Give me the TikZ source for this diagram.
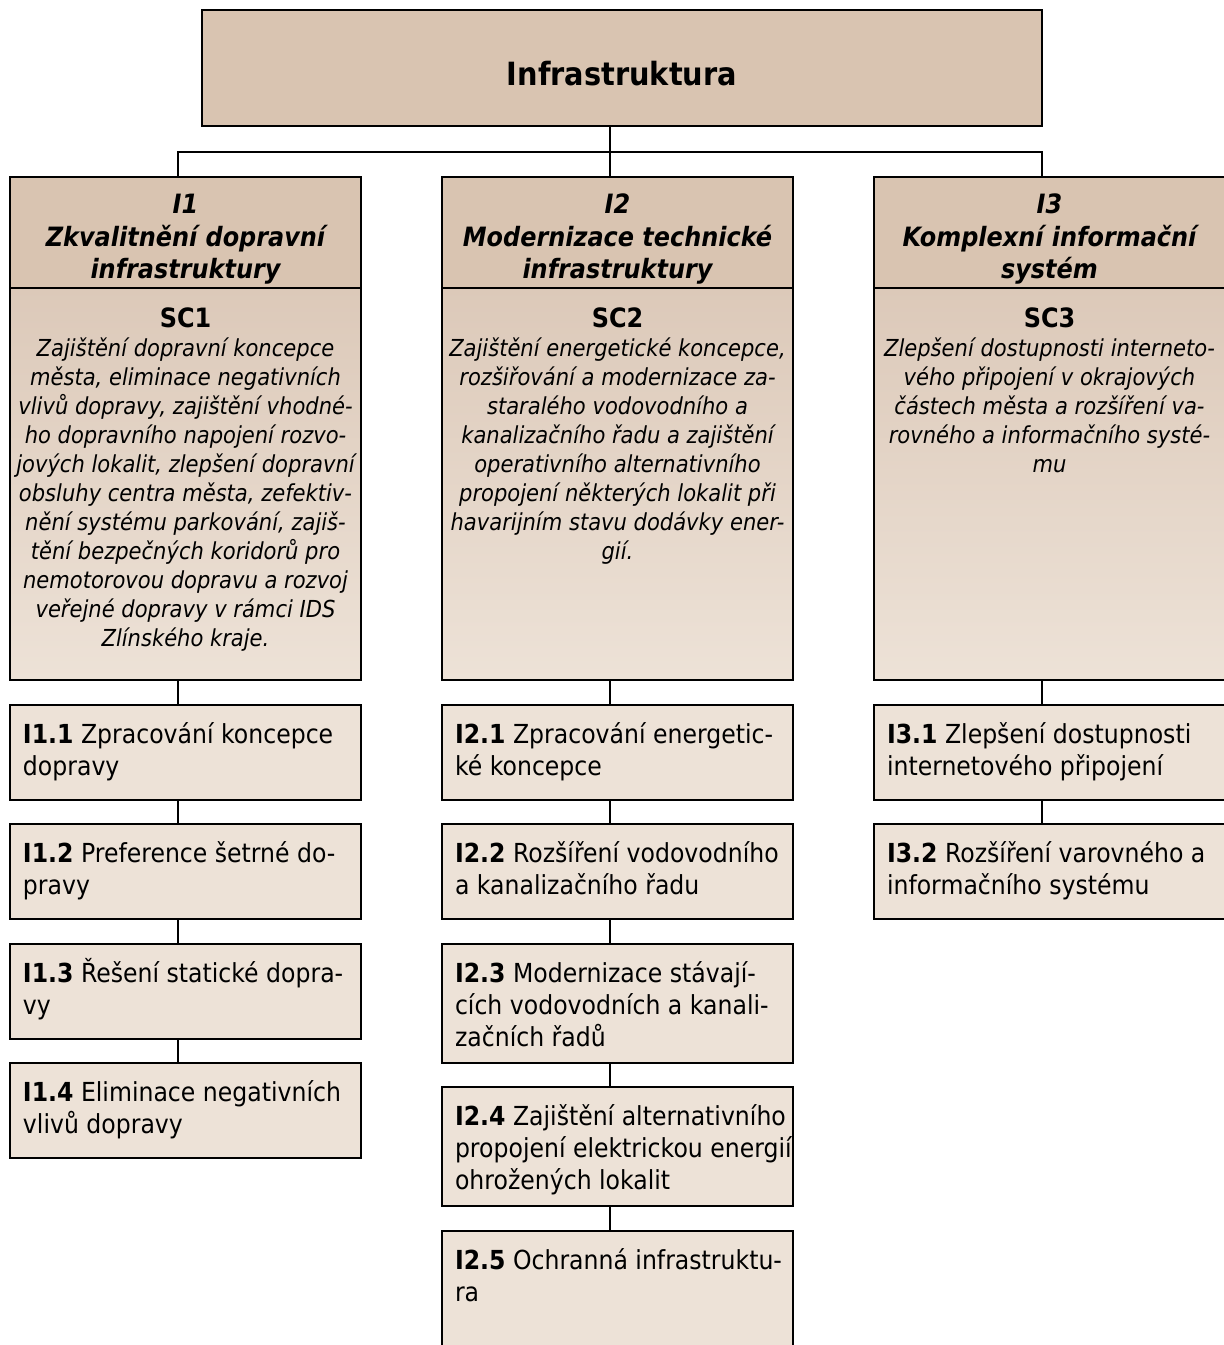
\documentclass[tikz,border=0pt]{standalone}
\usepackage{fontspec}
\setmainfont{DejaVu Sans}[FakeStretch=0.9]
\usetikzlibrary{positioning}
\definecolor{tanDark}{HTML}{D9C4B1}
\definecolor{tanMid}{HTML}{DCC9B9}
\definecolor{tanLight}{HTML}{EDE2D7}
% top-aligned text of fixed height and width
\newcommand{\boxTxt}[3]{\parbox[t][#1][t]{#2}{#3}}
\newcommand{\topStrut}[1]{\rule{0pt}{#1}}

\begin{document}
\begin{tikzpicture}[x=0.5pt, y=-0.5pt, node distance=12.25pt,
  cell/.style={draw, line width=1pt, anchor=north west, inner sep=0pt, outer sep=0pt},
  topBox/.style={cell, fill=tanDark, minimum width=420pt, minimum height=58pt,
    text height=37.5pt, text depth=20.5pt, font=\bfseries\fontsize{16}{19}\selectfont},
  headBox/.style={cell, fill=tanDark, inner ysep=2.6pt,
    font=\bfseries\itshape\fontsize{13.3}{16.2}\selectfont},
  descBox/.style={cell, top color=tanMid, bottom color=tanLight, inner ysep=5.35pt,
    font=\itshape\fontsize{11.7}{14.5}\selectfont},
  itemBox/.style={cell, fill=tanLight, inner ysep=3.6pt,
    font=\fontsize{13.1}{16}\selectfont},
  link/.style={line width=0.75pt}]
  \useasboundingbox (0,0) rectangle (1223,1345);

  \node[topBox] (topBox) at (202,10) {Infrastruktura};

  % columns
  \node[headBox] (headOne) at (10,177) {\boxTxt{50.3pt}{175.5pt}{\centering
    \topStrut{15.8pt}I1\\Zkvalitnění dopravní\\infrastruktury\par}};
  \node[headBox] (headTwo) at (442,177) {\boxTxt{50.3pt}{175.5pt}{\centering
    \topStrut{15.8pt}I2\\Modernizace technické\\infrastruktury\par}};
  \node[headBox] (headThree) at (874,177) {\boxTxt{50.3pt}{175.5pt}{\centering
    \topStrut{15.8pt}I3\\Komplexní informační\\systém\par}};

  \node[descBox, below=0pt of headOne] (descOne) {\boxTxt{185.3pt}{175.5pt}{\centering
    {\bfseries\upshape\fontsize{13.3}{14.5}\selectfont\topStrut{14.6pt}SC1}\\
    Zajištění dopravní koncepce\\
    města, eliminace negativních\\
    vlivů dopravy, zajištění vhodné-\\
    ho dopravního napojení rozvo-\\
    jových lokalit, zlepšení dopravní\\
    obsluhy centra města, zefektiv-\\
    nění systému parkování, zajiš-\\
    tění bezpečných koridorů pro\\
    nemotorovou dopravu a rozvoj\\
    veřejné dopravy v rámci IDS\\
    Zlínského kraje.\par}};
  \node[descBox, below=0pt of headTwo] (descTwo) {\boxTxt{185.3pt}{175.5pt}{\centering
    {\bfseries\upshape\fontsize{13.3}{14.5}\selectfont\topStrut{14.6pt}SC2}\\
    Zajištění energetické koncepce,\\
    rozšiřování a modernizace za-\\
    staralého vodovodního a\\
    kanalizačního řadu a zajištění\\
    operativního alternativního\\
    propojení některých lokalit při\\
    havarijním stavu dodávky ener-\\
    gií.\par}};
  \node[descBox, below=0pt of headThree] (descThree) {\boxTxt{185.3pt}{175.5pt}{\centering
    {\bfseries\upshape\fontsize{13.3}{14.5}\selectfont\topStrut{14.6pt}SC3}\\
    Zlepšení dostupnosti interneto-\\
    vého připojení v okrajových\\
    částech města a rozšíření va-\\
    rovného a informačního systé-\\
    mu\par}};

  % measures, column 1
  \node[itemBox, below=of descOne] (itemOneOne) {\boxTxt{40.3pt}{175.5pt}{\raggedright\leftskip=6.5pt
    \topStrut{15.7pt}\textbf{I1.1} Zpracování koncepce\\dopravy\par}};
  \node[itemBox, below=of itemOneOne] (itemOneTwo) {\boxTxt{40.3pt}{175.5pt}{\raggedright\leftskip=6.5pt
    \topStrut{15.7pt}\textbf{I1.2} Preference šetrné do-\\pravy\par}};
  \node[itemBox, below=of itemOneTwo] (itemOneThree) {\boxTxt{40.3pt}{175.5pt}{\raggedright\leftskip=6.5pt
    \topStrut{15.7pt}\textbf{I1.3} Řešení statické dopra-\\vy\par}};
  \node[itemBox, below=of itemOneThree] (itemOneFour) {\boxTxt{40.3pt}{175.5pt}{\raggedright\leftskip=6.5pt
    \topStrut{15.7pt}\textbf{I1.4} Eliminace negativních\\vlivů dopravy\par}};

  % measures, column 2
  \node[itemBox, below=of descTwo] (itemTwoOne) {\boxTxt{40.3pt}{175.5pt}{\raggedright\leftskip=6.5pt
    \topStrut{15.7pt}\textbf{I2.1} Zpracování energetic-\\ké koncepce\par}};
  \node[itemBox, below=of itemTwoOne] (itemTwoTwo) {\boxTxt{40.3pt}{175.5pt}{\raggedright\leftskip=6.5pt
    \topStrut{15.7pt}\textbf{I2.2} Rozšíření vodovodního\\a kanalizačního řadu\par}};
  \node[itemBox, below=of itemTwoTwo] (itemTwoThree) {\boxTxt{52.3pt}{175.5pt}{\raggedright\leftskip=6.5pt
    \topStrut{15.7pt}\textbf{I2.3} Modernizace stávají-\\cích vodovodních a kanali-\\začních řadů\par}};
  \node[itemBox, below=of itemTwoThree] (itemTwoFour) {\boxTxt{52.3pt}{175.5pt}{\raggedright\leftskip=6.5pt
    \topStrut{15.7pt}\textbf{I2.4} Zajištění alternativního\\propojení elektrickou energií\\ohrožených lokalit\par}};
  \node[itemBox, below=of itemTwoFour] (itemTwoFive) {\boxTxt{52.3pt}{175.5pt}{\raggedright\leftskip=6.5pt
    \topStrut{15.7pt}\textbf{I2.5} Ochranná infrastruktu-\\ra\par}};

  % measures, column 3
  \node[itemBox, below=of descThree] (itemThreeOne) {\boxTxt{40.3pt}{175.5pt}{\raggedright\leftskip=6.5pt
    \topStrut{15.7pt}\textbf{I3.1} Zlepšení dostupnosti\\internetového připojení\par}};
  \node[itemBox, below=of itemThreeOne] (itemThreeTwo) {\boxTxt{40.3pt}{175.5pt}{\raggedright\leftskip=6.5pt
    \topStrut{15.7pt}\textbf{I3.2} Rozšíření varovného a\\informačního systému\par}};

  % connectors
  \coordinate (spineOne) at (178,152);
  \coordinate (spineTwo) at (610,152);
  \coordinate (spineThree) at (1042,152);
  \draw[link] (topBox.south -| spineTwo) -- (spineTwo);
  \draw[link] (headOne.north -| spineOne) |- (spineThree) -- (headThree.north -| spineThree);
  \draw[link] (spineTwo) -- (headTwo.north -| spineTwo);

  \draw[link] (descOne.south -| spineOne) -- (itemOneOne.north -| spineOne);
  \draw[link] (itemOneOne.south -| spineOne) -- (itemOneTwo.north -| spineOne);
  \draw[link] (itemOneTwo.south -| spineOne) -- (itemOneThree.north -| spineOne);
  \draw[link] (itemOneThree.south -| spineOne) -- (itemOneFour.north -| spineOne);

  \draw[link] (descTwo.south -| spineTwo) -- (itemTwoOne.north -| spineTwo);
  \draw[link] (itemTwoOne.south -| spineTwo) -- (itemTwoTwo.north -| spineTwo);
  \draw[link] (itemTwoTwo.south -| spineTwo) -- (itemTwoThree.north -| spineTwo);
  \draw[link] (itemTwoThree.south -| spineTwo) -- (itemTwoFour.north -| spineTwo);
  \draw[link] (itemTwoFour.south -| spineTwo) -- (itemTwoFive.north -| spineTwo);

  \draw[link] (descThree.south -| spineThree) -- (itemThreeOne.north -| spineThree);
  \draw[link] (itemThreeOne.south -| spineThree) -- (itemThreeTwo.north -| spineThree);
\end{tikzpicture}
\end{document}
